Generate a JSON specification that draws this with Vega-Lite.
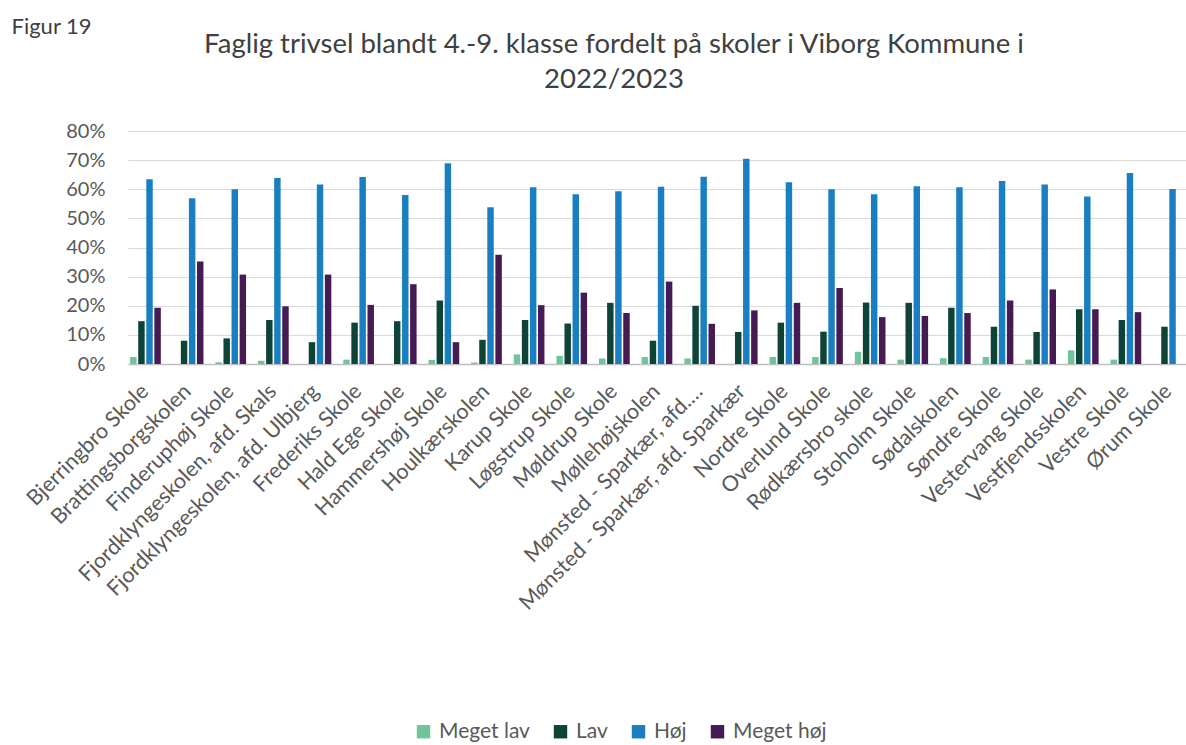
{
  "$schema": "https://vega.github.io/schema/vega-lite/v6.json",
  "width": 1058,
  "height": 233,
  "autosize": {"type": "none"},
  "padding": {"left": 128, "top": 131, "right": 0, "bottom": 381},
  "background": "white",
  "title": {
    "text": ["Faglig trivsel blandt 4.-9. klasse fordelt på skoler i Viborg Kommune i", "2022/2023"],
    "anchor": "middle",
    "frame": "group",
    "dx": -43,
    "dy": 78,
    "offset": 0,
    "fontSize": 27.5,
    "fontWeight": "normal",
    "font": "Lato",
    "color": "#404040",
    "lineHeight": 35
  },
  "config": {
    "view": {"stroke": null},
    "font": "Lato"
  },
  "data": {
    "values": [
      {"skole": "Bjerringbro Skole", "niveau": "Meget lav", "andel": 0.024},
      {"skole": "Bjerringbro Skole", "niveau": "Lav", "andel": 0.147},
      {"skole": "Bjerringbro Skole", "niveau": "Høj", "andel": 0.634},
      {"skole": "Bjerringbro Skole", "niveau": "Meget høj", "andel": 0.193},
      {"skole": "Brattingsborgskolen", "niveau": "Lav", "andel": 0.080},
      {"skole": "Brattingsborgskolen", "niveau": "Høj", "andel": 0.569},
      {"skole": "Brattingsborgskolen", "niveau": "Meget høj", "andel": 0.352},
      {"skole": "Finderuphøj Skole", "niveau": "Meget lav", "andel": 0.006},
      {"skole": "Finderuphøj Skole", "niveau": "Lav", "andel": 0.088},
      {"skole": "Finderuphøj Skole", "niveau": "Høj", "andel": 0.600},
      {"skole": "Finderuphøj Skole", "niveau": "Meget høj", "andel": 0.307},
      {"skole": "Fjordklyngeskolen, afd. Skals", "niveau": "Meget lav", "andel": 0.011},
      {"skole": "Fjordklyngeskolen, afd. Skals", "niveau": "Lav", "andel": 0.151},
      {"skole": "Fjordklyngeskolen, afd. Skals", "niveau": "Høj", "andel": 0.639},
      {"skole": "Fjordklyngeskolen, afd. Skals", "niveau": "Meget høj", "andel": 0.198},
      {"skole": "Fjordklyngeskolen, afd. Ulbjerg", "niveau": "Lav", "andel": 0.075},
      {"skole": "Fjordklyngeskolen, afd. Ulbjerg", "niveau": "Høj", "andel": 0.616},
      {"skole": "Fjordklyngeskolen, afd. Ulbjerg", "niveau": "Meget høj", "andel": 0.307},
      {"skole": "Frederiks Skole", "niveau": "Meget lav", "andel": 0.015},
      {"skole": "Frederiks Skole", "niveau": "Lav", "andel": 0.142},
      {"skole": "Frederiks Skole", "niveau": "Høj", "andel": 0.642},
      {"skole": "Frederiks Skole", "niveau": "Meget høj", "andel": 0.203},
      {"skole": "Hald Ege Skole", "niveau": "Lav", "andel": 0.147},
      {"skole": "Hald Ege Skole", "niveau": "Høj", "andel": 0.580},
      {"skole": "Hald Ege Skole", "niveau": "Meget høj", "andel": 0.274},
      {"skole": "Hammershøj Skole", "niveau": "Meget lav", "andel": 0.014},
      {"skole": "Hammershøj Skole", "niveau": "Lav", "andel": 0.218},
      {"skole": "Hammershøj Skole", "niveau": "Høj", "andel": 0.689},
      {"skole": "Hammershøj Skole", "niveau": "Meget høj", "andel": 0.075},
      {"skole": "Houlkærskolen", "niveau": "Meget lav", "andel": 0.005},
      {"skole": "Houlkærskolen", "niveau": "Lav", "andel": 0.083},
      {"skole": "Houlkærskolen", "niveau": "Høj", "andel": 0.538},
      {"skole": "Houlkærskolen", "niveau": "Meget høj", "andel": 0.375},
      {"skole": "Karup Skole", "niveau": "Meget lav", "andel": 0.033},
      {"skole": "Karup Skole", "niveau": "Lav", "andel": 0.151},
      {"skole": "Karup Skole", "niveau": "Høj", "andel": 0.607},
      {"skole": "Karup Skole", "niveau": "Meget høj", "andel": 0.202},
      {"skole": "Løgstrup Skole", "niveau": "Meget lav", "andel": 0.028},
      {"skole": "Løgstrup Skole", "niveau": "Lav", "andel": 0.139},
      {"skole": "Løgstrup Skole", "niveau": "Høj", "andel": 0.583},
      {"skole": "Løgstrup Skole", "niveau": "Meget høj", "andel": 0.245},
      {"skole": "Møldrup Skole", "niveau": "Meget lav", "andel": 0.019},
      {"skole": "Møldrup Skole", "niveau": "Lav", "andel": 0.210},
      {"skole": "Møldrup Skole", "niveau": "Høj", "andel": 0.593},
      {"skole": "Møldrup Skole", "niveau": "Meget høj", "andel": 0.175},
      {"skole": "Møllehøjskolen", "niveau": "Meget lav", "andel": 0.024},
      {"skole": "Møllehøjskolen", "niveau": "Lav", "andel": 0.080},
      {"skole": "Møllehøjskolen", "niveau": "Høj", "andel": 0.609},
      {"skole": "Møllehøjskolen", "niveau": "Meget høj", "andel": 0.283},
      {"skole": "Mønsted - Sparkær, afd.…", "niveau": "Meget lav", "andel": 0.019},
      {"skole": "Mønsted - Sparkær, afd.…", "niveau": "Lav", "andel": 0.200},
      {"skole": "Mønsted - Sparkær, afd.…", "niveau": "Høj", "andel": 0.643},
      {"skole": "Mønsted - Sparkær, afd.…", "niveau": "Meget høj", "andel": 0.138},
      {"skole": "Mønsted - Sparkær, afd. Sparkær", "niveau": "Lav", "andel": 0.110},
      {"skole": "Mønsted - Sparkær, afd. Sparkær", "niveau": "Høj", "andel": 0.705},
      {"skole": "Mønsted - Sparkær, afd. Sparkær", "niveau": "Meget høj", "andel": 0.184},
      {"skole": "Nordre Skole", "niveau": "Meget lav", "andel": 0.024},
      {"skole": "Nordre Skole", "niveau": "Lav", "andel": 0.142},
      {"skole": "Nordre Skole", "niveau": "Høj", "andel": 0.624},
      {"skole": "Nordre Skole", "niveau": "Meget høj", "andel": 0.210},
      {"skole": "Overlund Skole", "niveau": "Meget lav", "andel": 0.024},
      {"skole": "Overlund Skole", "niveau": "Lav", "andel": 0.111},
      {"skole": "Overlund Skole", "niveau": "Høj", "andel": 0.600},
      {"skole": "Overlund Skole", "niveau": "Meget høj", "andel": 0.261},
      {"skole": "Rødkærsbro skole", "niveau": "Meget lav", "andel": 0.042},
      {"skole": "Rødkærsbro skole", "niveau": "Lav", "andel": 0.211},
      {"skole": "Rødkærsbro skole", "niveau": "Høj", "andel": 0.583},
      {"skole": "Rødkærsbro skole", "niveau": "Meget høj", "andel": 0.161},
      {"skole": "Stoholm Skole", "niveau": "Meget lav", "andel": 0.015},
      {"skole": "Stoholm Skole", "niveau": "Lav", "andel": 0.210},
      {"skole": "Stoholm Skole", "niveau": "Høj", "andel": 0.610},
      {"skole": "Stoholm Skole", "niveau": "Meget høj", "andel": 0.165},
      {"skole": "Sødalskolen", "niveau": "Meget lav", "andel": 0.020},
      {"skole": "Sødalskolen", "niveau": "Lav", "andel": 0.193},
      {"skole": "Sødalskolen", "niveau": "Høj", "andel": 0.607},
      {"skole": "Sødalskolen", "niveau": "Meget høj", "andel": 0.175},
      {"skole": "Søndre Skole", "niveau": "Meget lav", "andel": 0.024},
      {"skole": "Søndre Skole", "niveau": "Lav", "andel": 0.128},
      {"skole": "Søndre Skole", "niveau": "Høj", "andel": 0.628},
      {"skole": "Søndre Skole", "niveau": "Meget høj", "andel": 0.218},
      {"skole": "Vestervang Skole", "niveau": "Meget lav", "andel": 0.015},
      {"skole": "Vestervang Skole", "niveau": "Lav", "andel": 0.110},
      {"skole": "Vestervang Skole", "niveau": "Høj", "andel": 0.616},
      {"skole": "Vestervang Skole", "niveau": "Meget høj", "andel": 0.256},
      {"skole": "Vestfjendsskolen", "niveau": "Meget lav", "andel": 0.047},
      {"skole": "Vestfjendsskolen", "niveau": "Lav", "andel": 0.188},
      {"skole": "Vestfjendsskolen", "niveau": "Høj", "andel": 0.575},
      {"skole": "Vestfjendsskolen", "niveau": "Meget høj", "andel": 0.188},
      {"skole": "Vestre Skole", "niveau": "Meget lav", "andel": 0.015},
      {"skole": "Vestre Skole", "niveau": "Lav", "andel": 0.151},
      {"skole": "Vestre Skole", "niveau": "Høj", "andel": 0.656},
      {"skole": "Vestre Skole", "niveau": "Meget høj", "andel": 0.178},
      {"skole": "Ørum Skole", "niveau": "Lav", "andel": 0.128},
      {"skole": "Ørum Skole", "niveau": "Høj", "andel": 0.601}
    ]
  },
  "mark": {"type": "bar"},
  "encoding": {
    "x": {
      "field": "skole",
      "type": "nominal",
      "sort": null,
      "scale": {"paddingInner": 0.28, "paddingOuter": 0.05},
      "axis": {
        "title": null,
        "labelAngle": -45,
        "labelAlign": "right",
        "labelBaseline": "middle",
        "labelFontSize": 21.5,
        "labelColor": "#595959",
        "labelPadding": 24,
        "labelLimit": 400,
        "ticks": false,
        "domain": true,
        "domainColor": "#bfbfbf",
        "domainWidth": 1.5,
        "grid": false
      }
    },
    "xOffset": {
      "field": "niveau",
      "type": "nominal",
      "sort": ["Meget lav", "Lav", "Høj", "Meget høj"],
      "scale": {"domain": ["Meget lav", "Lav", "Høj", "Meget høj"], "paddingInner": 0.2}
    },
    "y": {
      "field": "andel",
      "type": "quantitative",
      "scale": {"domain": [0, 0.8], "nice": false},
      "axis": {
        "title": "Figur 19",
        "titleAngle": 0,
        "titleAlign": "left",
        "titleBaseline": "middle",
        "titleX": -117,
        "titleY": -105,
        "titleFontSize": 22,
        "titleFontWeight": "normal",
        "titleColor": "#404040",
        "format": ".0%",
        "values": [0, 0.1, 0.2, 0.3, 0.4, 0.5, 0.6, 0.7, 0.8],
        "labelFontSize": 20,
        "labelColor": "#595959",
        "labelPadding": 23,
        "ticks": false,
        "domain": false,
        "grid": true,
        "gridColor": "#d9d9d9",
        "gridWidth": 1.2
      }
    },
    "color": {
      "field": "niveau",
      "type": "nominal",
      "scale": {
        "domain": ["Meget lav", "Lav", "Høj", "Meget høj"],
        "range": ["#70c49c", "#0e4438", "#1a7fc0", "#461a52"]
      },
      "legend": {
        "title": null,
        "orient": "none",
        "legendX": 285,
        "legendY": 590,
        "direction": "horizontal",
        "symbolType": "square",
        "symbolSize": 180,
        "symbolStrokeWidth": 0,
        "labelFontSize": 21,
        "labelColor": "#595959",
        "columnPadding": 20,
        "labelOffset": 5
      }
    }
  }
}
